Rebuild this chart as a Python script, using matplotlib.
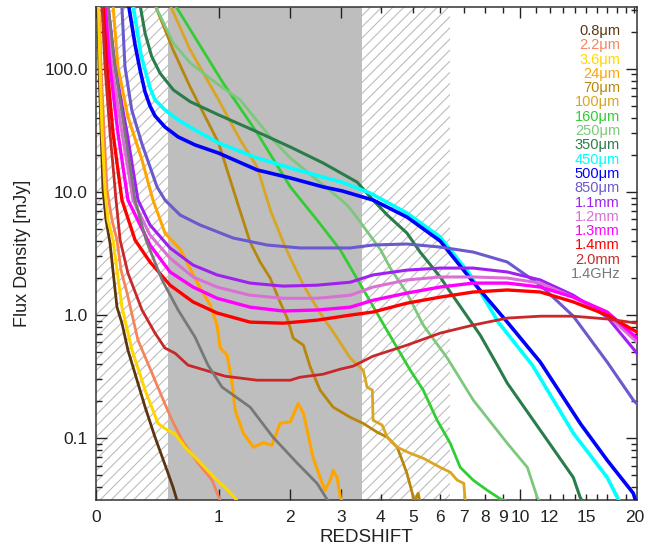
import numpy as np
import matplotlib
matplotlib.use("Agg")
import matplotlib.pyplot as plt
from matplotlib.ticker import FixedLocator, FuncFormatter, LogLocator, NullFormatter

# ── values (redshift, flux density in mJy) ──
bands = ["0.8μm", "2.2μm", "3.6μm", "24μm", "70μm", "100μm", "160μm", "250μm",
         "350μm", "450μm", "500μm", "850μm", "1.1mm", "1.2mm", "1.3mm",
         "1.4mm", "2.0mm", "1.4GHz"]

z_08 = [0.0097, 0.0171, 0.0287, 0.0404, 0.0582, 0.0824, 0.107, 0.126, 0.158, 0.198,
        0.261, 0.320, 0.396, 0.494, 0.546, 0.582]
f_08 = [330, 104, 31.9, 10.4, 5.92, 3.85, 1.93, 1.16, 0.86, 0.519,
        0.296, 0.179, 0.102, 0.0549, 0.040, 0.031]

z_22 = [0.0171, 0.0287, 0.0463, 0.0643, 0.0947, 0.126, 0.152, 0.192, 0.268, 0.373,
        0.453, 0.537, 0.627, 0.781, 0.928, 1.018]
f_22 = [330, 104, 31.9, 10.4, 5.92, 4.07, 2.32, 1.51, 0.626, 0.337,
        0.215, 0.140, 0.0964, 0.0627, 0.0456, 0.031]

z_36 = [0.0142, 0.0229, 0.0345, 0.0522, 0.0702, 0.101, 0.158, 0.226, 0.320, 0.420,
        0.477, 0.564, 0.655, 0.781, 0.961, 1.110, 1.221]
f_36 = [330, 104, 31.9, 10.4, 5.92, 4.07, 1.16, 0.519, 0.246, 0.132,
        0.12, 0.108, 0.0845, 0.0662, 0.0473, 0.0378, 0.031]

z_24 = [0.101, 0.132, 0.198, 0.297, 0.380, 0.477, 0.609, 0.771, 0.906, 0.983,
        1.018, 1.099, 1.159, 1.196, 1.30, 1.435, 1.577, 1.703, 1.83, 2.0,
        2.135, 2.23, 2.30, 2.41, 2.55, 2.65, 2.76, 2.82, 2.91, 2.98, 3.02]
f_24 = [330, 104, 40.7, 18.2, 8.6, 4.64, 3.44, 1.85, 1.21, 0.83,
        0.54, 0.473, 0.28, 0.169, 0.11, 0.0845, 0.092, 0.0877, 0.132, 0.136,
        0.191, 0.16, 0.116, 0.0702, 0.048, 0.0378, 0.0456, 0.0549, 0.048, 0.0332, 0.031]

z_70 = [0.396, 0.546, 0.702, 1.0, 1.234, 1.39, 1.529, 1.677, 1.83, 1.947,
        2.05, 2.23, 2.36, 2.55, 2.82, 3.21, 3.53, 3.90, 4.19, 4.49,
        4.68, 4.80, 4.98, 5.04, 5.18, 5.25]
f_70 = [330, 143, 71.5, 25.0, 7.83, 3.92, 2.70, 2.0, 1.28, 0.946,
        0.65, 0.570, 0.377, 0.246, 0.179, 0.148, 0.132, 0.112, 0.102, 0.0845,
        0.0627, 0.0519, 0.0357, 0.030, 0.0357, 0.030]

z_100 = [0.52, 0.702, 1.0, 1.259, 1.486, 1.69, 1.93, 2.23, 2.55, 2.87,
         3.21, 3.53, 3.63, 3.77, 3.79, 4.04, 4.19, 4.49, 4.91, 5.36,
         6.0, 6.41, 6.71, 7.0, 7.07]
f_100 = [330, 143, 56, 26.5, 16.0, 6.87, 3.44, 1.75, 1.04, 0.687,
         0.447, 0.357, 0.26, 0.246, 0.14, 0.128, 0.102, 0.0845, 0.0755, 0.0688,
         0.058, 0.053, 0.0456, 0.043, 0.030]

z_160 = [0.564, 1.051, 1.486, 2.0, 2.49, 2.98, 3.63, 4.28, 4.91, 5.36,
         5.88, 6.41, 6.84, 7.44, 8.13, 8.83, 9.41]
f_160 = [330, 76.9, 30.2, 11.0, 5.92, 3.38, 1.43, 0.675, 0.357, 0.246,
         0.14, 0.091, 0.058, 0.0456, 0.0378, 0.0322, 0.030]

z_250 = [0.396, 0.546, 0.702, 1.0, 1.259, 1.677, 2.0, 2.61, 3.14, 3.38,
         4.0, 4.28, 4.80, 5.36, 6.29, 7.44, 9.23, 10.46, 11.12, 11.33]
f_250 = [330, 163, 112, 74.1, 56, 28, 18.9, 11.4, 7.83, 6.15,
         3.38, 2.41, 1.51, 0.83, 0.447, 0.204, 0.091, 0.058, 0.033, 0.030]

z_350 = [0.283, 0.3195, 0.370, 0.436, 0.549, 0.702, 1.0, 1.486, 2.0, 2.61,
         3.38, 3.79, 4.19, 4.80, 5.25, 6.0, 6.41, 7.78, 8.67, 9.23,
         11.33, 13.86, 14.45, 14.73]
f_350 = [330, 195, 126, 92.3, 67.4, 54.2, 42.3, 30.8, 23.2, 17.2,
         12.0, 8.6, 6.5, 4.64, 3.25, 2.04, 1.54, 0.687, 0.392, 0.28,
         0.116, 0.048, 0.033, 0.030]

z_450 = [0.233, 0.261, 0.290, 0.3195, 0.357, 0.396, 0.477, 0.591, 0.751, 1.0,
         1.486, 2.0, 2.61, 3.02, 3.71, 4.80, 6.0, 7.30, 8.72, 10.79,
         13.86, 17.0, 18.06, 18.39]
f_450 = [330, 207, 130, 98, 70, 56, 46.4, 38.5, 31.9, 25.0,
         18.9, 15.7, 13.2, 12.0, 9.8, 6.75, 4.31, 2.12, 0.877, 0.392,
         0.11, 0.048, 0.033, 0.030]

z_500 = [0.202, 0.219, 0.247, 0.283, 0.3195, 0.357, 0.396, 0.477, 0.591, 0.751,
         1.0, 1.486, 2.0, 2.61, 3.02, 3.79, 4.80, 6.0, 7.44, 9.23,
         11.33, 14.45, 17.0, 19.86, 20.2]
f_500 = [330, 250, 157, 98, 65, 50, 41.5, 33.7, 28, 24.1,
         20.7, 15.1, 13.0, 11.0, 10.2, 8.6, 6.26, 4.0, 1.85, 0.877,
         0.415, 0.132, 0.0662, 0.0357, 0.030]

z_850 = [0.157, 0.178, 0.224, 0.295, 0.412, 0.477, 0.609, 0.80, 1.171, 1.63,
         2.17, 3.21, 3.79, 4.80, 6.0, 7.44, 9.23, 11.33, 13.86, 17.0,
         19.86, 20.3]
f_850 = [330, 104, 46.4, 24.9, 11.0, 8.6, 6.5, 5.4, 4.23, 3.71,
         3.51, 3.51, 3.71, 3.78, 3.57, 3.25, 2.70, 1.75, 0.98, 0.415,
         0.204, 0.19]

z_11 = [0.0702, 0.1135, 0.192, 0.268, 0.357, 0.520, 0.731, 0.983, 1.39, 1.88,
        2.49, 3.21, 3.79, 4.80, 6.0, 7.44, 9.23, 11.33, 13.86, 17.0, 20.3]
f_11 = [330, 104, 30.2, 8.6, 5.4, 3.51, 2.55, 2.12, 1.82, 1.72,
        1.75, 1.85, 2.12, 2.32, 2.41, 2.41, 2.24, 1.93, 1.45, 0.963, 0.49]

z_12 = [0.0582, 0.0947, 0.158, 0.233, 0.357, 0.520, 0.731, 0.983, 1.39, 1.88,
        2.49, 3.21, 3.79, 4.80, 6.0, 7.44, 9.23, 11.33, 13.86, 17.0, 20.3]
f_12 = [330, 104, 30.2, 8.6, 4.47, 2.9, 2.04, 1.69, 1.45, 1.37,
        1.37, 1.45, 1.69, 1.93, 2.04, 2.04, 2.0, 1.82, 1.40, 1.0, 0.603]

z_13 = [0.0522, 0.0824, 0.132, 0.198, 0.357, 0.520, 0.731, 0.983, 1.39, 1.88,
        2.49, 3.21, 3.79, 4.80, 6.0, 7.44, 9.23, 11.33, 13.86, 17.0, 20.3]
f_13 = [330, 104, 30.2, 8.6, 3.71, 2.24, 1.69, 1.37, 1.16, 1.08,
        1.10, 1.16, 1.32, 1.51, 1.69, 1.82, 1.82, 1.69, 1.40, 1.06, 0.65]

z_14 = [0.0404, 0.0643, 0.101, 0.158, 0.247, 0.357, 0.520, 0.731, 0.983, 1.39,
        1.88, 2.49, 3.21, 3.79, 4.80, 6.0, 7.44, 9.23, 11.33, 13.86, 17.0, 20.3]
f_14 = [330, 104, 30.2, 8.6, 4.07, 2.70, 1.75, 1.28, 1.04, 0.877,
        0.86, 0.91, 1.0, 1.06, 1.25, 1.40, 1.54, 1.60, 1.54, 1.28, 1.0, 0.728]

z_20 = [0.0345, 0.0522, 0.0824, 0.120, 0.146, 0.198, 0.297, 0.396, 0.477, 0.564,
        0.683, 0.853, 1.075, 1.486, 2.0, 2.17, 2.61, 2.98, 3.28, 3.79,
        4.80, 6.0, 7.44, 9.23, 11.33, 13.86, 17.0, 20.3]
f_20 = [330, 104, 30.2, 8.6, 4.07, 2.19, 1.10, 0.714, 0.54, 0.49,
        0.392, 0.357, 0.319, 0.296, 0.296, 0.313, 0.331, 0.364, 0.385, 0.464,
        0.57, 0.714, 0.83, 0.946, 0.98, 0.98, 0.93, 0.86]

z_ghz = [0.0702, 0.1135, 0.178, 0.247, 0.327, 0.357, 0.453, 0.591, 0.751, 0.884,
         1.04, 1.39, 1.72, 2.12, 2.49, 2.69, 2.76]
f_ghz = [330, 104, 30.2, 8.6, 4.07, 3.38, 1.93, 1.10, 0.662, 0.392,
         0.26, 0.179, 0.102, 0.0627, 0.043, 0.032, 0.030]

redshifts = [z_08, z_22, z_36, z_24, z_70, z_100, z_160, z_250, z_350, z_450,
             z_500, z_850, z_11, z_12, z_13, z_14, z_20, z_ghz]
fluxes = [f_08, f_22, f_36, f_24, f_70, f_100, f_160, f_250, f_350, f_450,
          f_500, f_850, f_11, f_12, f_13, f_14, f_20, f_ghz]

# shaded redshift windows
hatch_spans = [(0.0, 0.5), (3.5, 6.4)]
gray_span = (0.5, 3.5)

x_labels = [0, 1, 2, 3, 4, 5, 6, 7, 8, 9, 10, 12, 15, 20]

# ── styles ──
colors = ["#5a3512", "#f5845c", "#ffd700", "#ffa500", "#b8860b", "#daa520",
          "#32cd32", "#7cc87c", "#2a7d4a", "#00ffff", "#0000ff", "#6a5acd",
          "#a020f0", "#da70d6", "#ff00ff", "#ff0000", "#c8282a", "#787878"]
widths = [2.0, 2.0, 2.2, 2.2, 2.0, 2.0, 2.0, 2.0, 2.2, 2.6, 2.6, 2.2,
          2.2, 2.2, 2.4, 2.4, 2.0, 2.0]

plt.rcParams["font.family"] = ["Liberation Sans", "DejaVu Sans"]
plt.rcParams["hatch.linewidth"] = 0.8


def fwd(z):
    return np.log10(np.clip(1.0 + np.asarray(z, dtype=float), 1e-6, None))


def inv(u):
    return 10.0 ** np.asarray(u, dtype=float) - 1.0


fig = plt.figure(figsize=(6.5, 5.49), dpi=100)
ax = fig.add_axes([96 / 650, 49 / 549, 541 / 650, 493 / 549])
ax.set_xscale("function", functions=(fwd, inv))
ax.set_yscale("log")
ax.set_xlim(0, 20.3)
ax.set_ylim(0.0315, 318)

# background regions
for lo, hi in hatch_spans:
    ax.axvspan(lo, hi, facecolor="white", edgecolor="#bdbdbd", hatch="///",
               linewidth=0, zorder=0)
ax.axvspan(gray_span[0], gray_span[1], facecolor="#bebebe", edgecolor="none",
           zorder=0)

for z, f, c, w in zip(redshifts, fluxes, colors, widths):
    ax.plot(z, f, color=c, lw=w, solid_joinstyle="round", zorder=3)

# legend as coloured text
for i, (name, c) in enumerate(zip(bands, colors)):
    ax.text(0.9686, 0.9513 - i * 0.0290, name, color=c, fontsize=10.5,
            ha="right", va="center", transform=ax.transAxes, zorder=5)

# axes and ticks
lab_set = set(x_labels)
xfmt = FuncFormatter(lambda v, p: str(int(round(v))) if int(round(v)) in lab_set
                     and abs(v - round(v)) < 1e-6 else "")
ax.xaxis.set_major_locator(FixedLocator([0, 1, 2, 3, 10]))
ax.xaxis.set_minor_locator(FixedLocator([4, 5, 6, 7, 8, 9] + list(range(11, 21))))
ax.xaxis.set_major_formatter(xfmt)
ax.xaxis.set_minor_formatter(xfmt)

ax.yaxis.set_major_locator(LogLocator(base=10))
ax.yaxis.set_minor_locator(LogLocator(base=10, subs=np.arange(2, 10)))
ax.yaxis.set_major_formatter(FuncFormatter(lambda v, p: f"{v:.1f}"))
ax.yaxis.set_minor_formatter(NullFormatter())

ax.tick_params(which="both", direction="in", top=True, right=True,
               labelsize=12.5, colors="#222222", width=1.0)
ax.tick_params(which="major", length=8, pad=7)
ax.tick_params(which="minor", length=4, pad=7)
ax.tick_params(axis="y", which="major", pad=6)

for s in ax.spines.values():
    s.set_color("#333333")
    s.set_linewidth(1.1)

ax.set_xlabel("REDSHIFT", fontsize=13.5, color="#222222")
ax.set_ylabel("Flux Density [mJy]", fontsize=13, color="#222222")
ax.xaxis.set_label_coords(0.5, -0.058)
ax.yaxis.set_label_coords(-0.121, 0.5)

fig.savefig("out.png", dpi=100)
